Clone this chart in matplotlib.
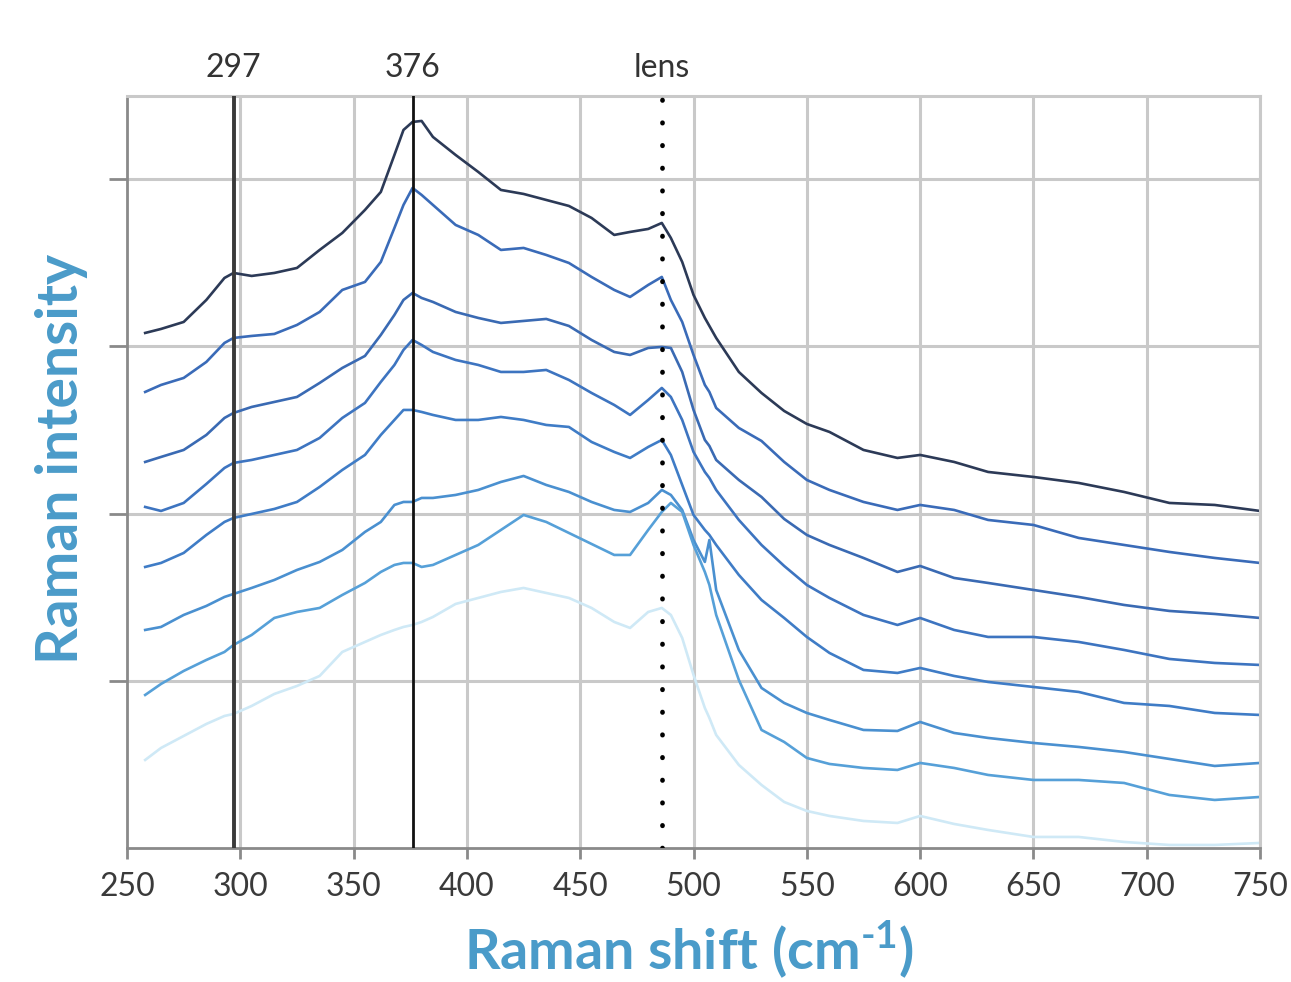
import matplotlib
matplotlib.use("Agg")
import matplotlib.pyplot as plt

plt.rcParams['font.family'] = ['Lato', 'DejaVu Sans']
plt.rcParams['mathtext.fontset'] = 'custom'
plt.rcParams['mathtext.rm'] = 'Lato'

# Raman shift (cm-1), shared by all spectra
shift = [258, 265, 275, 285, 293, 297, 305, 315, 325, 335, 345, 355, 362, 368, 372, 376, 380, 385,
         395, 405, 415, 425, 435, 445, 455, 465, 472, 480, 486, 490, 495, 500, 505, 507, 510, 520,
         530, 540, 550, 560, 575, 590, 600, 615, 630, 650, 670, 690, 710, 730, 750]

# stacked spectra, top (darkest) to bottom (lightest), arbitrary units
spec_1 = [515, 519, 526, 548, 570, 575, 572, 575, 580, 598, 615, 638, 656, 693, 718, 726, 727, 711,
          693, 676, 658, 654, 648, 642, 630, 613, 616, 619, 625, 610, 586, 553, 530, 522, 510, 476,
          455, 437, 424, 416, 398, 390, 393, 386, 376, 371, 365, 356, 345, 343, 337]
spec_2 = [456, 463, 470, 486, 505, 510, 512, 514, 523, 536, 558, 566, 586, 620, 643, 660, 653, 643,
          623, 613, 598, 600, 593, 585, 571, 558, 551, 563, 571, 548, 526, 493, 463, 456, 440, 420,
          407, 386, 368, 358, 346, 338, 343, 338, 328, 323, 310, 303, 296, 290, 285]
spec_3 = [386, 391, 398, 413, 430, 435, 441, 446, 451, 465, 480, 492, 513, 533, 548, 555, 550, 546,
          536, 530, 525, 527, 529, 522, 508, 496, 493, 500, 501, 500, 476, 438, 408, 402, 388, 368,
          351, 329, 313, 303, 290, 276, 282, 270, 265, 258, 251, 243, 237, 234, 230]
spec_4 = [341, 337, 345, 364, 380, 385, 388, 393, 398, 410, 430, 445, 466, 483, 498, 508, 503, 496,
          488, 483, 476, 476, 478, 468, 455, 443, 433, 448, 460, 451, 428, 396, 376, 370, 358, 328,
          303, 282, 263, 250, 233, 223, 230, 218, 211, 211, 206, 198, 189, 185, 183]
spec_5 = [281, 285, 295, 313, 326, 330, 334, 339, 346, 361, 378, 393, 413, 428, 438, 438, 436, 433,
          428, 428, 431, 428, 423, 421, 406, 396, 390, 401, 408, 393, 363, 333, 318, 313, 303, 273,
          248, 230, 211, 195, 178, 175, 180, 172, 166, 161, 156, 145, 142, 135, 133]
spec_6 = [218, 221, 233, 242, 251, 254, 260, 268, 278, 286, 298, 316, 326, 343, 346, 346, 350, 350,
          353, 358, 366, 372, 363, 356, 346, 338, 336, 345, 358, 353, 338, 308, 286, 308, 258, 198,
          160, 145, 135, 128, 118, 117, 126, 115, 110, 105, 101, 96, 89, 82, 85]
spec_7 = [153, 164, 177, 188, 196, 203, 213, 230, 236, 240, 253, 265, 276, 283, 285, 285, 281, 283,
          293, 303, 318, 333, 326, 315, 304, 293, 293, 318, 336, 345, 336, 303, 276, 263, 233, 168,
          118, 106, 90, 84, 80, 78, 85, 80, 73, 68, 68, 65, 53, 48, 51]
spec_8 = [88, 100, 112, 124, 132, 134, 142, 154, 162, 172, 196, 206, 213, 218, 221, 223, 226, 231,
          244, 250, 256, 260, 255, 250, 240, 226, 220, 236, 240, 233, 210, 173, 140, 130, 113, 83,
          63, 46, 37, 32, 27, 25, 32, 24, 18, 11, 11, 6, 3, 3, 5]

spectra = [spec_1, spec_2, spec_3, spec_4, spec_5, spec_6, spec_7, spec_8]
colors = ['#2c3a57', '#3a6bb8', '#3a6ab3', '#3d74c0', '#3f7cc6', '#4a90d0', '#56a0d8', '#cfe9f6']

marker_pos = [297, 376]
marker_labels = ['297', '376']
lens_pos = 486

fig = plt.figure(figsize=(12.91, 9.82), dpi=100)
ax = fig.add_axes([0.0984, 0.1365, 0.8776, 0.7658])

grid_c = '#c9c9c9'
for xv in range(300, 751, 50):
    ax.axvline(xv, color=grid_c, lw=2.2, zorder=0)
for yv in [167, 334, 502, 669]:
    ax.axhline(yv, color=grid_c, lw=2.2, zorder=0)

for ys, c in zip(spectra, colors):
    ax.plot(shift, ys, color=c, lw=1.9, zorder=2)

ax.axvline(297, color='#3a3a3a', lw=2.8, zorder=3)
ax.axvline(376, color='#111111', lw=2.0, zorder=3)
ax.axvline(lens_pos, color='black', lw=3.4, zorder=3,
           linestyle=(0, (0.1, 4.7)), dash_capstyle='round')

for xv, lab in zip(marker_pos + [lens_pos], marker_labels + ['lens']):
    ax.annotate(lab, xy=(xv, 1.0), xycoords=('data', 'axes fraction'),
                xytext=(0, 9), textcoords='offset points',
                ha='center', va='bottom', fontsize=23, color='#333333')

ax.set_xlim(250, 750)
ax.set_ylim(0, 752)
ax.set_xticks(range(250, 751, 50))
ax.set_yticks([167, 334, 502, 669])
ax.set_yticklabels([])
ax.tick_params(axis='x', length=8, width=2, color='#8a8a8a', labelsize=23,
               labelcolor='#3a3a3a', pad=9)
ax.tick_params(axis='y', length=13, width=2, color='#8a8a8a')

for side in ['left', 'bottom']:
    ax.spines[side].set_color('#8a8a8a')
    ax.spines[side].set_linewidth(2)
for side in ['top', 'right']:
    ax.spines[side].set_color(grid_c)
    ax.spines[side].set_linewidth(2.2)

label_c = '#4a9bc9'
fig.text(0.534, 0.033, 'Raman shift (cm$^{\\mathregular{\u20101}}$)', ha='center', va='center',
         fontsize=40, fontweight='bold', color=label_c)
fig.text(0.048, 0.533, 'Raman intensity', ha='center', va='center', rotation=90,
         fontsize=41, fontweight='bold', color=label_c)

fig.savefig('out.png', dpi=100)
